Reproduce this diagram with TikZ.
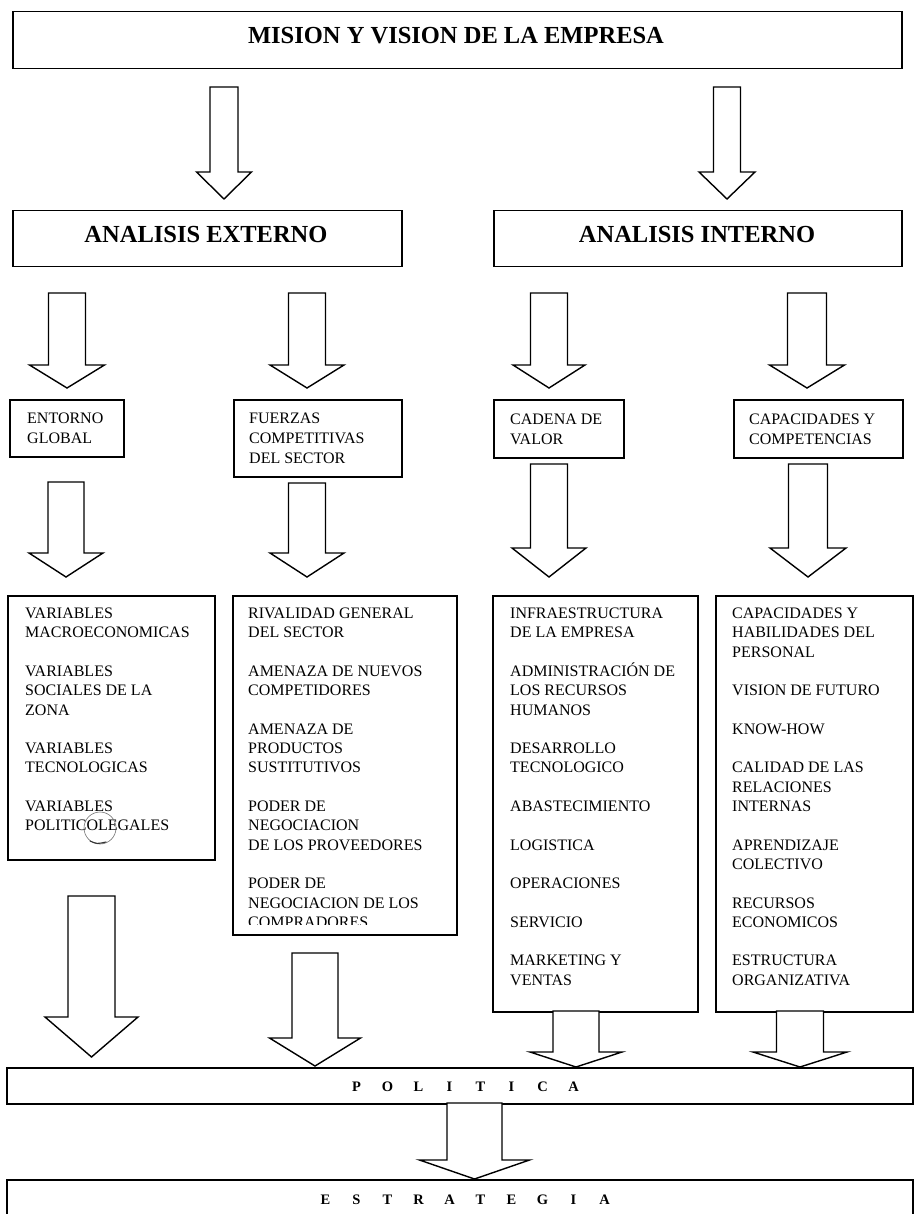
\documentclass[tikz,border=0pt]{standalone}
\usepackage{fontspec}
\setmainfont{Liberation Serif}

% frame with corners (x1,y1)-(x2,y2), y measured downwards
\newcommand\frameat[5]{%
  \node[frame, minimum width={(#4-#2)*1pt}, minimum height={(#5-#3)*1pt}] (#1) at (#2,#3) {};}
% hollow block arrow pointing down:
% centre x, top y, head base y, tip y, shaft half width, head half width
\newcommand\blockdown[6]{%
  \draw[blockarrow] ({#1-#5},#2) -- ({#1+#5},#2) -- ({#1+#5},#3) -- ({#1+#6},#3)
    -- (#1,#4) -- ({#1-#6},#3) -- ({#1-#5},#3) -- cycle;}
% one letter of a widely spaced word
\newcommand\spc[1]{\makebox[31pt]{#1}}

\begin{document}
\begin{tikzpicture}[x=1pt,y=-1pt,
  frame/.style={draw=black, line width=1.5pt, inner sep=0pt, anchor=north west, fill=white},
  blockarrow/.style={draw=black, line width=1.4pt, fill=white, line join=miter},
  headtext/.style={font=\fontsize{24.5}{28}\selectfont\bfseries, inner sep=0pt},
  smalltext/.style={font=\fontsize{16}{20}\selectfont, align=left, inner sep=0pt, anchor=north west},
  listtext/.style={font=\fontsize{16}{19.3}\selectfont, align=left, inner sep=0pt, anchor=north west},
  spacedtext/.style={font=\fontsize{14.5}{17}\selectfont\bfseries, inner sep=0pt}]

\useasboundingbox (0,0) rectangle (915,1214);
\clip (0,0) rectangle (915,1214);

% ---------- top ----------
\frameat{mision}{12}{11}{901}{68}
\node[headtext] (misiont) at (456,36) {MISION Y VISION DE LA EMPRESA};

\blockdown{224}{87}{172}{199}{14}{27.5}
\blockdown{727}{87}{172}{199}{13.5}{28}

% ---------- external / internal analysis ----------
\frameat{externo}{12}{210}{401}{266}
\node[headtext] (externot) at (206,235) {ANALISIS EXTERNO};
\frameat{interno}{493}{210}{901}{266}
\node[headtext] (internot) at (697,235) {ANALISIS INTERNO};

\blockdown{67}{293}{365}{388}{18.5}{37.5}
\blockdown{307}{293}{365}{388}{18.5}{37}
\blockdown{549}{293}{365}{388}{18.5}{36}
\blockdown{807}{293}{365}{388}{19.5}{37.5}

% ---------- second level ----------
\frameat{entorno}{9}{399}{123}{456}
\node[smalltext] (entornot) at (27,412.7) {ENTORNO\\GLOBAL};
\frameat{fuerzas}{233}{399}{401}{476}
\node[smalltext] (fuerzast) at (249,412.7) {FUERZAS\\COMPETITIVAS\\DEL SECTOR};
\frameat{cadena}{493}{399}{623}{457}
\node[smalltext] (cadenat) at (510,414) {CADENA DE\\VALOR};
\frameat{capac}{733}{399}{902}{457}
\node[smalltext] (capact) at (749,413.5) {CAPACIDADES Y\\COMPETENCIAS};

\blockdown{66}{482}{553}{577}{18}{37}
\blockdown{307}{483}{553}{577}{18.5}{37}
\blockdown{549}{464}{548}{577}{18.5}{37}
\blockdown{808}{464}{548}{577}{19.5}{38}

% ---------- detail lists ----------
\frameat{varbox}{7}{595}{214}{859}
\node[listtext] (vart) at (25,607.7) {VARIABLES\\MACROECONOMICAS\\[19.3pt]
  VARIABLES\\SOCIALES DE LA\\ZONA\\[19.3pt]
  VARIABLES\\TECNOLOGICAS\\[19.3pt]
  VARIABLES\\POLITICOLEGALES};
% pencil mark on the last entry
\draw[black!55, line width=0.6pt] (100,828) circle (16);
\draw[black!80, line width=1.1pt, line cap=round] (90,841) .. controls (97,844) .. (106,842);

\frameat{fuerzaslist}{232}{595}{456}{934}
\begin{scope}
  \clip (232,595) rectangle (456,924.5);
  \node[listtext] (fuerzaslistt) at (248,607.7) {RIVALIDAD GENERAL\\DEL SECTOR\\[19.3pt]
    AMENAZA DE NUEVOS\\COMPETIDORES\\[19.3pt]
    AMENAZA DE\\PRODUCTOS\\SUSTITUTIVOS\\[19.3pt]
    PODER DE\\NEGOCIACION\\DE LOS PROVEEDORES\\[19.3pt]
    PODER DE\\NEGOCIACION DE LOS\\COMPRADORES};
\end{scope}

\frameat{infra}{492}{595}{697}{1011}
\node[listtext] (infrat) at (510,607.7) {INFRAESTRUCTURA\\DE LA EMPRESA\\[19.3pt]
  ADMINISTRACIÓN DE\\LOS RECURSOS\\HUMANOS\\[19.3pt]
  DESARROLLO\\TECNOLOGICO\\[19.3pt]
  ABASTECIMIENTO\\[19.3pt]
  LOGISTICA\\[19.3pt]
  OPERACIONES\\[19.3pt]
  SERVICIO\\[19.3pt]
  MARKETING Y\\VENTAS};

\frameat{capaclist}{715}{595}{912}{1011}
\node[listtext] (capaclistt) at (732,607.7) {CAPACIDADES Y\\HABILIDADES DEL\\PERSONAL\\[19.3pt]
  VISION DE FUTURO\\[19.3pt]
  KNOW-HOW\\[19.3pt]
  CALIDAD DE LAS\\RELACIONES\\INTERNAS\\[19.3pt]
  APRENDIZAJE\\COLECTIVO\\[19.3pt]
  RECURSOS\\ECONOMICOS\\[19.3pt]
  ESTRUCTURA\\ORGANIZATIVA};

% ---------- policy and strategy ----------
\blockdown{91.5}{896}{1017}{1057}{23.5}{46.5}
\blockdown{315}{953}{1038}{1066}{23}{45.5}

\frameat{politica}{6}{1067}{912}{1103}
\node[spacedtext] (politicat) at (465,1087) {\spc{P}\spc{O}\spc{L}\spc{I}\spc{T}\spc{I}\spc{C}\spc{A}};

\blockdown{576}{1011}{1052}{1067}{23}{46}
\blockdown{800}{1011}{1052}{1067}{23.5}{47}

\blockdown{474.5}{1103}{1160}{1179}{27.5}{55}

\frameat{estrategia}{6}{1179}{912}{1240}
\node[spacedtext] (estrategiat) at (465,1200) {\spc{E}\spc{S}\spc{T}\spc{R}\spc{A}\spc{T}\spc{E}\spc{G}\spc{I}\spc{A}};

\end{tikzpicture}
\end{document}
